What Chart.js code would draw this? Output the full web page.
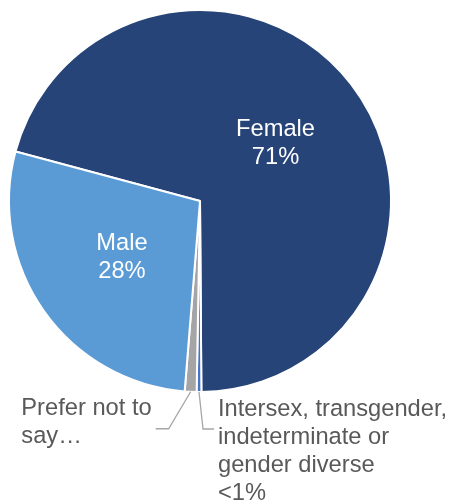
<!DOCTYPE html>
<html>
<head>
<meta charset="utf-8">
<script src="https://cdn.jsdelivr.net/npm/chart.js@4.4.1/dist/chart.umd.min.js"></script>
<style>
  html, body { margin: 0; padding: 0; background: #fff; }
  #wrap { position: relative; width: 451px; height: 502px; }
</style>
</head>
<body>
<div id="wrap"><canvas id="gender-chart"></canvas></div>
<script>
// gender breakdown, clockwise from the Female slice
const genderLabels = ['Female', 'Intersex, transgender, indeterminate or gender diverse', 'Prefer not to say', 'Male'];
const genderShares = [71, 0.4, 1, 28];
const sliceColours = ['#264478', '#4472C4', '#A5A5A5', '#5B9BD5'];

// text drawn for each slice (inside for the big ones, outside with a leader for the small ones)
const sliceText = [
  ['Female', '71%'],
  ['Intersex, transgender,', 'indeterminate or', 'gender diverse', '<1%'],
  ['Prefer not to', 'say…'],
  ['Male', '28%']
];
const outsideSlices = [1, 2];

const FONT = '23.7px "Liberation Sans", Arial, sans-serif';
const LINE_H = 28;

// leader elbow / end offsets from the slice edge, and which side the text sits on
const leaders = {
  1: { dx: 4, dy: 37, run: 11, side: 'right' },
  2: { dx: -22, dy: 37, run: -13, side: 'left' }
};

const sliceLabels = {
  id: 'sliceLabels',
  afterDatasetsDraw(chart) {
    const ctx = chart.ctx;
    const meta = chart.getDatasetMeta(0);
    ctx.save();
    ctx.font = FONT;
    ctx.textBaseline = 'middle';

    meta.data.forEach((arc, i) => {
      const lines = sliceText[i];
      if (!outsideSlices.includes(i)) {
        const c = arc.getCenterPoint();
        ctx.fillStyle = '#ffffff';
        ctx.textAlign = 'center';
        lines.forEach((t, k) => {
          ctx.fillText(t, c.x, c.y + 1 + (k - (lines.length - 1) / 2) * LINE_H);
        });
        return;
      }
      const p = arc.getProps(['x', 'y', 'startAngle', 'endAngle', 'outerRadius'], true);
      const mid = (p.startAngle + p.endAngle) / 2;
      const sx = p.x + Math.cos(mid) * p.outerRadius;
      const sy = p.y + Math.sin(mid) * p.outerRadius;
      const l = leaders[i];
      const ex = sx + l.dx, ey = sy + l.dy;
      const tx = ex + l.run;

      ctx.strokeStyle = '#A6A6A6';
      ctx.lineWidth = 1.3;
      ctx.beginPath();
      ctx.moveTo(sx, sy);
      ctx.lineTo(ex, ey);
      ctx.lineTo(tx, ey);
      ctx.stroke();

      ctx.fillStyle = '#595959';
      ctx.textAlign = 'left';
      let left = tx + 4;
      if (l.side === 'left') {
        const w = Math.max(...lines.map(t => ctx.measureText(t).width));
        left = tx - 4 - w;
      }
      lines.forEach((t, k) => {
        ctx.fillText(t, left, ey - 20 + k * LINE_H);
      });
    });
    ctx.restore();
  }
};

new Chart(document.getElementById('gender-chart'), {
  type: 'pie',
  data: {
    labels: genderLabels,
    datasets: [{
      data: genderShares,
      backgroundColor: sliceColours,
      borderColor: '#ffffff',
      borderWidth: 2
    }]
  },
  options: {
    responsive: true,
    maintainAspectRatio: false,
    animation: false,
    rotation: 285,
    layout: { padding: { left: 8, top: 9, right: 59, bottom: 109 } },
    plugins: {
      legend: { display: false },
      tooltip: { enabled: false }
    }
  },
  plugins: [sliceLabels]
});
</script>
</body>
</html>
